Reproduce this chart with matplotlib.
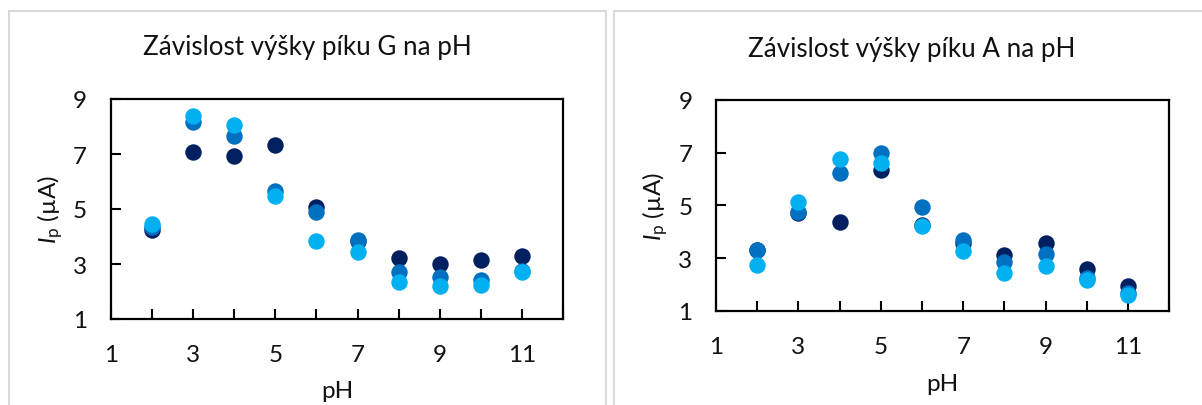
import matplotlib
matplotlib.use("Agg")
import matplotlib.pyplot as plt
from matplotlib.patches import Rectangle
from matplotlib.ticker import MultipleLocator

plt.rcParams['font.family'] = ['Lato', 'DejaVu Sans']
plt.rcParams['mathtext.fontset'] = 'custom'
plt.rcParams['mathtext.rm'] = 'Lato'
plt.rcParams['mathtext.it'] = 'Lato:italic'

ph = [2, 3, 4, 5, 6, 7, 8, 9, 10, 11]

# Peak G
g_s1 = [4.25, 7.06, 6.94, 7.33, 5.06, 3.82, 3.21, 3.00, 3.16, 3.28]
g_s2 = [4.35, 8.15, 7.67, 5.67, 4.88, 3.88, 2.70, 2.52, 2.43, 2.76]
g_s3 = [4.45, 8.39, 8.05, 5.48, 3.85, 3.45, 2.36, 2.21, 2.24, 2.70]

# Peak A
a_s1 = [3.30, 4.70, 4.37, 6.34, 4.25, 3.56, 3.11, 3.56, 2.58, 1.95]
a_s2 = [3.31, 4.75, 6.24, 6.97, 4.92, 3.69, 2.86, 3.15, 2.26, 1.70]
a_s3 = [2.74, 5.13, 6.77, 6.59, 4.20, 3.27, 2.45, 2.70, 2.17, 1.59]

titles = ["Závislost výšky píku G na pH", "Závislost výšky píku A na pH"]
colors = ["#002060", "#0070C0", "#00B0F0"]

W, H = 1202, 406
fig = plt.figure(figsize=(W / 100, H / 100), dpi=100)

def fx(px):
    return px / W

def fy(py):
    return 1 - py / H

# panel borders
for x0, x1 in [(9, 605.5), (614, 1215)]:
    fig.patches.append(Rectangle((fx(x0), fy(420)), fx(x1 - x0), (420 - 11.5) / H,
                                 transform=fig.transFigure, fill=False,
                                 edgecolor="#d9d9d9", linewidth=1.5, zorder=0))

axes_px = [(110.7, 563.3, 100, 320), (716, 1169.3, 100.7, 312)]
panel_centers = [307, 912]
title_y = [47, 50]
xlabel_y = [392, 385]
ylabel_x = [50, 655]
datasets = [(g_s1, g_s2, g_s3), (a_s1, a_s2, a_s3)]

for i, (l, r, t, b) in enumerate(axes_px):
    ax = fig.add_axes([fx(l), fy(b), fx(r - l), (b - t) / H])
    for ser, c in zip(datasets[i], colors):
        ax.scatter(ph, ser, s=140, color=c, linewidths=0, zorder=3, clip_on=False)
    ax.set_xlim(1, 12)
    ax.set_ylim(1, 9)
    ax.xaxis.set_minor_locator(MultipleLocator(1))
    ax.set_xticks([1, 3, 5, 7, 9, 11])
    ax.set_yticks([1, 3, 5, 7, 9])
    ax.tick_params(axis='x', which='both', direction='in', length=7, width=1.5,
                   pad=18, labelsize=17.5, color='black', labelcolor='#111111')
    ax.tick_params(axis='y', which='both', direction='in', length=7, width=1.5,
                   pad=17, labelsize=17.5, color='black', labelcolor='#111111')
    for sp in ax.spines.values():
        sp.set_linewidth(1.6)
        sp.set_color('black')
    fig.text(fx(panel_centers[i]), fy(title_y[i]), titles[i], ha='center', va='center',
             fontsize=18.7, color='#111111')
    fig.text(fx((l + r) / 2), fy(xlabel_y[i]), "pH", ha='center', va='center',
             fontsize=17.5, color='#111111')
    fig.text(fx(ylabel_x[i]), fy((t + b) / 2), r"$I_\mathrm{p}$ (µA)", ha='center',
             va='center', rotation=90, fontsize=17.5, color='#111111')

fig.savefig("out.png", dpi=100)
